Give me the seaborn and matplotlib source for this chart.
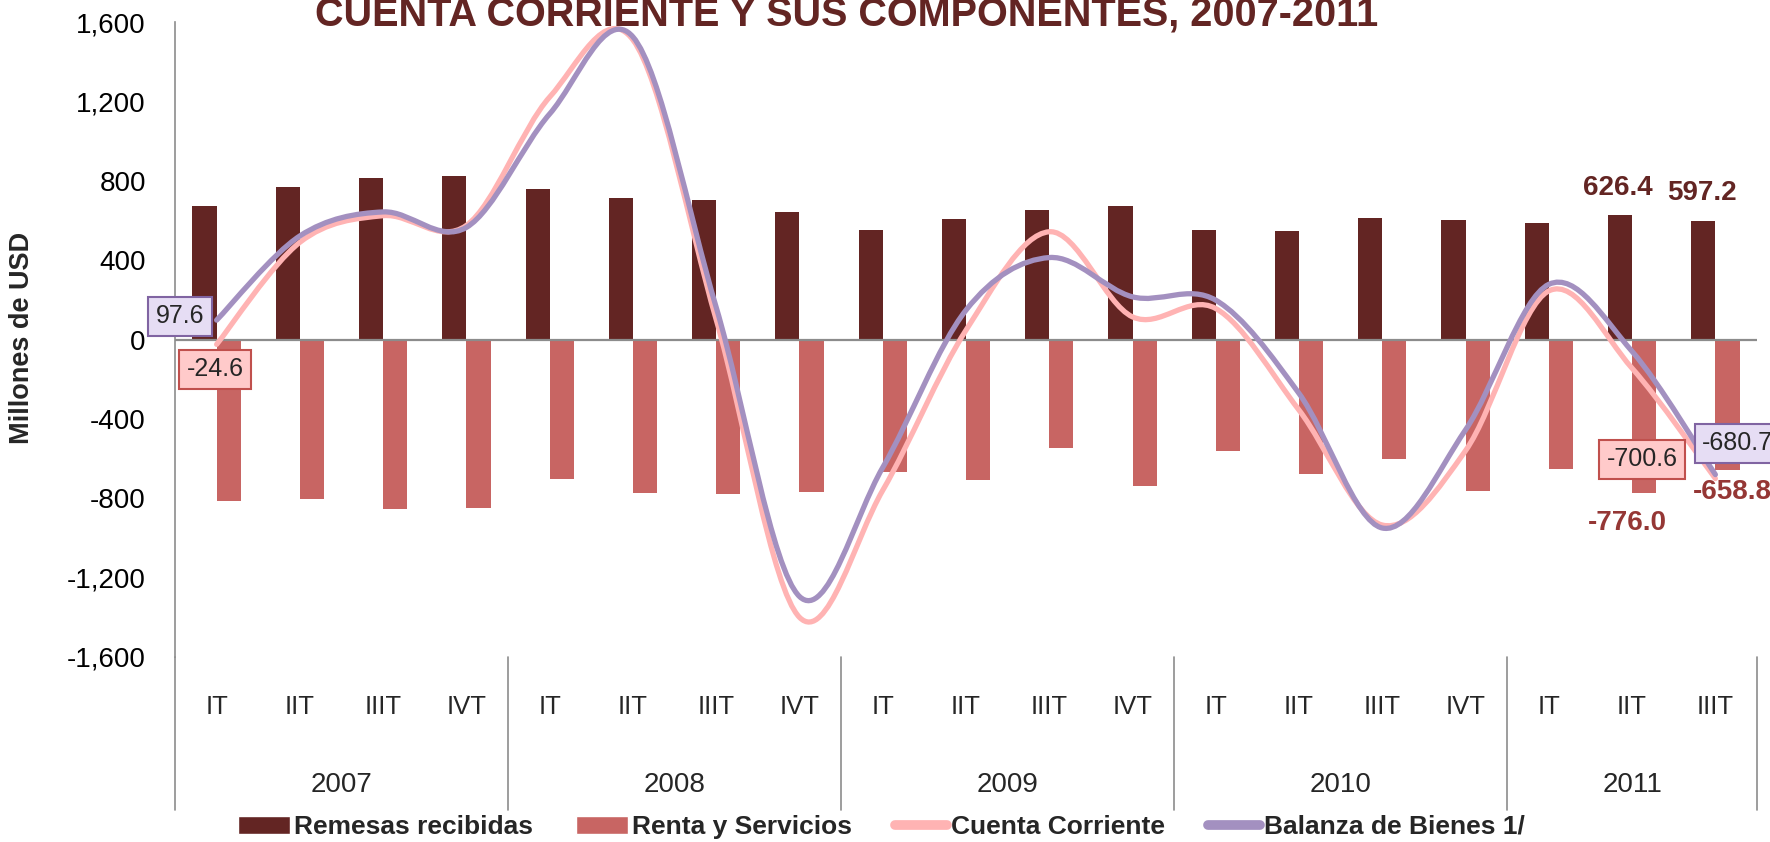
import matplotlib
matplotlib.use("Agg")
import matplotlib.pyplot as plt
from matplotlib.path import Path
from matplotlib.patches import PathPatch, Patch
from matplotlib.lines import Line2D
import numpy as np
import pandas as pd
import seaborn as sns

# datos (millones de USD)
anios = ["2007", "2008", "2009", "2010", "2011"]
trimestres = ["IT", "IIT", "IIIT", "IVT",
              "IT", "IIT", "IIIT", "IVT",
              "IT", "IIT", "IIIT", "IVT",
              "IT", "IIT", "IIIT", "IVT",
              "IT", "IIT", "IIIT"]
trim_por_anio = [4, 4, 4, 4, 3]
remesas = [675, 770, 813, 823, 758, 711, 705, 641, 554, 608, 653, 672,
           554, 549, 610, 603, 586, 626.4, 597.2]
renta = [-812, -806, -852, -850, -704, -774, -778, -771, -670, -706, -548, -736,
         -563, -676, -600, -762, -654, -776.0, -658.8]
cuenta = [-24.6, 490, 624, 575, 1222, 1510, 100, -1400, -760, 47, 543, 114,
          156, -356, -935, -560, 245, -145, -700.6]
balanza = [97.6, 522, 643, 565, 1137, 1525, 162, -1295, -645, 148, 413, 215,
           198, -272, -950, -455, 278, -60, -680.7]

serie_names = ["Remesas recibidas", "Renta y Servicios", "Cuenta Corriente", "Balanza de Bienes 1/"]
col_remesas = "#632523"
col_renta = "#c86563"
col_cuenta = "#ffb3b3"
col_balanza = "#a390c0"
gris = "#8c8c8c"

sns.set_theme(style="white")
plt.rcParams["font.family"] = ["Liberation Sans", "DejaVu Sans"]

# claves unicas por periodo
claves = []
k = 0
for anio, n in zip(anios, trim_por_anio):
    for j in range(n):
        claves.append(anio + "-" + trimestres[k])
        k += 1

df = pd.DataFrame({
    "periodo": claves * 2,
    "serie": [serie_names[0]] * len(claves) + [serie_names[1]] * len(claves),
    "valor": remesas + renta,
})

fig = plt.figure(figsize=(17.7, 8.42), dpi=100)
ax = fig.add_axes([175 / 1770, 1 - 657 / 842, (1757 - 175) / 1770, (657 - 22) / 842])

sns.barplot(data=df, x="periodo", y="valor", hue="serie", order=claves,
            hue_order=serie_names[:2], palette=[col_remesas, col_renta],
            width=0.58, dodge=True, errorbar=None, saturation=1,
            linewidth=0, legend=False, ax=ax)

ax.axhline(0, color=gris, lw=1.6, zorder=3)


# linea suavizada tipo Excel (bezier catmull-rom)
def smooth_path(vals):
    xs = np.arange(len(vals), dtype=float)
    ys = np.asarray(vals, dtype=float)
    n = len(vals)
    verts = [(xs[0], ys[0])]
    codes = [Path.MOVETO]
    for i in range(n - 1):
        p0 = max(i - 1, 0)
        p3 = min(i + 2, n - 1)
        c1 = (xs[i] + (xs[i + 1] - xs[p0]) / 6, ys[i] + (ys[i + 1] - ys[p0]) / 6)
        c2 = (xs[i + 1] - (xs[p3] - xs[i]) / 6, ys[i + 1] - (ys[p3] - ys[i]) / 6)
        verts += [c1, c2, (xs[i + 1], ys[i + 1])]
        codes += [Path.CURVE4] * 3
    return Path(verts, codes)


for vals, col in [(cuenta, col_cuenta), (balanza, col_balanza)]:
    ax.add_patch(PathPatch(smooth_path(vals), facecolor="none", edgecolor=col,
                           lw=3.8, capstyle="round", joinstyle="round", zorder=4))

ax.set_xlim(-0.5, len(claves) - 0.5)
ax.set_ylim(-1600, 1600)
ax.set_yticks(np.arange(-1600, 1601, 400))
ax.set_yticklabels([f"{v:,}" for v in range(-1600, 1601, 400)])
ax.tick_params(axis="y", length=0, pad=21, labelsize=20, labelcolor="black")
ax.set_xticks([])
ax.set_xlabel("")
ax.set_ylabel("")
for s in ["top", "right", "bottom"]:
    ax.spines[s].set_visible(False)
ax.spines["left"].set_color(gris)
ax.spines["left"].set_linewidth(1.2)

# eje de categorias en dos niveles
trans = ax.get_xaxis_transform()
y_sep = (657 - 810) / 635
for i, t in enumerate(trimestres):
    ax.text(i, (657 - 707) / 635, t, transform=trans, ha="center", va="center", fontsize=18.5)
limites = np.concatenate([[0], np.cumsum(trim_por_anio)]) - 0.5
for b in limites:
    ax.plot([b, b], [0, y_sep], transform=trans, color=gris, lw=1.2, clip_on=False)
for a, lo, hi in zip(anios, limites[:-1], limites[1:]):
    ax.text((lo + hi) / 2, (657 - 785) / 635, a, transform=trans, ha="center", va="center", fontsize=20)

# etiquetas de datos
box_rosa = dict(boxstyle="square,pad=0.3", facecolor="#ffcaca", edgecolor="#c0504d", lw=1.5)
box_lila = dict(boxstyle="square,pad=0.3", facecolor="#e6ddf4", edgecolor="#8064a2", lw=1.5)
ax.text(-0.44, 117, f"{balanza[0]:.1f}", ha="center", va="center", fontsize=18, bbox=box_lila, zorder=6)
ax.text(-0.02, -150, f"{cuenta[0]:.1f}", ha="center", va="center", fontsize=18, bbox=box_rosa, zorder=6)
ax.text(17.12, -603, f"{cuenta[-1]:.1f}", ha="center", va="center", fontsize=18, bbox=box_rosa, zorder=6)
ax.text(17.84, -523, f"{balanza[-1]:.1f}", ha="left", va="center", fontsize=18, bbox=box_lila, zorder=7)
ax.text(16.83, 763, f"{remesas[-2]:.1f}", ha="center", va="center", fontsize=20,
        fontweight="bold", color=col_remesas)
ax.text(17.84, 738, f"{remesas[-1]:.1f}", ha="center", va="center", fontsize=20,
        fontweight="bold", color=col_remesas)
ax.text(16.94, -925, f"{renta[-2]:.1f}", ha="center", va="center", fontsize=20,
        fontweight="bold", color="#953735")
ax.text(18.2, -769, f"{renta[-1]:.1f}", ha="center", va="center", fontsize=20,
        fontweight="bold", color="#953735")

fig.text(847 / 1770, 1 - 25 / 842, "CUENTA CORRIENTE Y SUS COMPONENTES, 2007-2011",
         ha="center", va="baseline", fontsize=28.5, fontweight="bold", color=col_remesas)
fig.text(22 / 1770, 1 - 338 / 842, "Millones de USD", rotation=90, ha="center", va="center",
         fontsize=19.5, fontweight="bold")

handles = [Patch(facecolor=col_remesas), Patch(facecolor=col_renta),
           Line2D([], [], color=col_cuenta, lw=7), Line2D([], [], color=col_balanza, lw=7)]
fig.legend(handles, serie_names, loc="center", bbox_to_anchor=(0.498, 15 / 842), ncol=4,
           frameon=False, prop={"weight": "bold", "size": 19}, handlelength=2.0,
           handletextpad=0.15, columnspacing=1.6, borderpad=0)

fig.savefig("out.png", dpi=100, facecolor="white")
